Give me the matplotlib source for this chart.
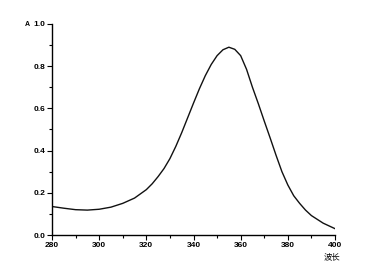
import matplotlib
matplotlib.use("Agg")
import matplotlib.pyplot as plt
from matplotlib.ticker import MultipleLocator

wavelength = [280, 285, 290, 295, 300, 305, 310, 315, 320, 322.5, 325, 327.5, 330,
              332.5, 335, 337.5, 340, 342.5, 345, 347.5, 350, 352.5, 355, 357.5, 360,
              362.5, 365, 367.5, 370, 372.5, 375, 377.5, 380, 382.5, 385, 387.5, 390,
              395, 400]
absorbance = [0.135, 0.127, 0.120, 0.118, 0.122, 0.132, 0.150, 0.175, 0.215, 0.243,
              0.277, 0.315, 0.362, 0.420, 0.485, 0.555, 0.625, 0.693, 0.755, 0.808,
              0.850, 0.878, 0.890, 0.880, 0.850, 0.785, 0.700, 0.622, 0.540, 0.460,
              0.378, 0.300, 0.237, 0.186, 0.150, 0.118, 0.092, 0.056, 0.030]
x_ticks = [280, 300, 320, 340, 360, 380, 400]
y_ticks = [0.0, 0.2, 0.4, 0.6, 0.8, 1.0]

plt.rcParams['font.family'] = ['Liberation Sans', 'Noto Sans CJK SC', 'DejaVu Sans']

fig = plt.figure(figsize=(3.7, 2.7), dpi=100)
ax = fig.add_axes([52/370, 35/270, (335-52)/370, (235-24)/270])
ax.plot(wavelength, absorbance, color='#111111', lw=1.0)
ax.set_xlim(280, 400)
ax.set_ylim(0, 1.0)
ax.set_xticks(x_ticks)
ax.set_yticks(y_ticks)
ax.set_xticklabels([str(v) for v in x_ticks])
ax.set_yticklabels([f"{v:.1f}" for v in y_ticks])
ax.xaxis.set_minor_locator(MultipleLocator(10))
ax.yaxis.set_minor_locator(MultipleLocator(0.1))
for s in ['top', 'right']:
    ax.spines[s].set_visible(False)
for s in ['left', 'bottom']:
    ax.spines[s].set_linewidth(1.0)
ax.tick_params(which='major', direction='out', length=3.5, width=0.8, labelsize=6, pad=1.5)
ax.tick_params(which='minor', direction='out', length=2, width=0.8)
for lab in ax.get_xticklabels() + ax.get_yticklabels():
    lab.set_fontweight('bold')

fig.text(27/370, 1 - 25/270, "A", fontsize=5, fontweight='bold', ha='center', va='center')
fig.text(332/370, 1 - 257/270, "波长", fontsize=6, ha='center', va='center',
         family=['Noto Sans CJK SC', 'DejaVu Sans'])

fig.savefig("out.png", dpi=100, facecolor='white')
